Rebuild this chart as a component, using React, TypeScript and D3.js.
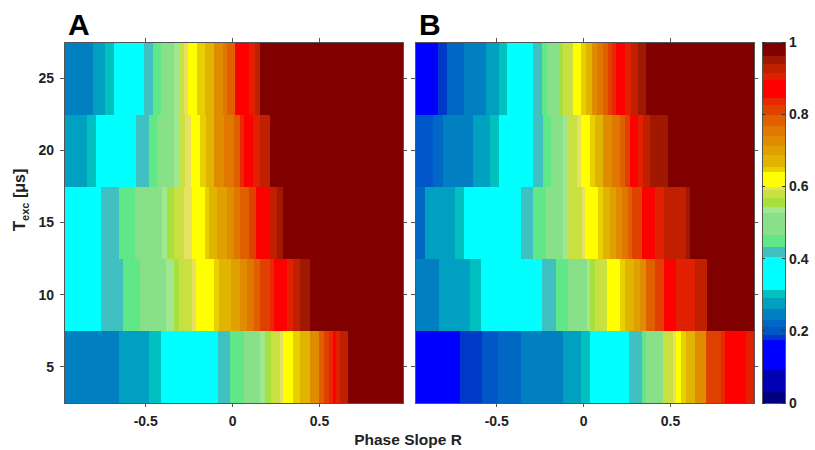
import * as d3 from "d3";

// axes
const X_DOMAIN: [number, number] = [-0.97, 0.98];
const Y_DOMAIN: [number, number] = [2.5, 27.5];
const ROWS = [5, 10, 15, 20, 25];
const X_TICKS = [-0.5, 0, 0.5];
const Y_TICKS = [5, 10, 15, 20, 25];
const CBAR_TICKS = [0, 0.2, 0.4, 0.6, 0.8, 1];

// discrete colour levels of the colour bar (bottom -> top)
const LEVEL_BREAKS = [
  0.031, 0.092, 0.175, 0.189, 0.212, 0.231, 0.263, 0.291, 0.314, 0.406,
  0.434, 0.467, 0.528, 0.545, 0.569, 0.592, 0.601, 0.642, 0.656, 0.689,
  0.712, 0.74, 0.768, 0.8, 0.828, 0.846, 0.897, 0.916, 0.941, 0.962,
];
const LEVEL_COLORS = [
  "#000080", "#0000b4", "#0000ff", "#0038c8", "#0058c8", "#0068c4", "#0080c0",
  "#00a0c0", "#00c0c0", "#00ffff", "#40c0c0", "#60e888", "#88e088", "#a0e890",
  "#a8e040", "#c8e040", "#e8e060", "#ffff00", "#e8d000", "#e0b400", "#e0a000",
  "#e08c00", "#e07800", "#e06000", "#e04000", "#e82800", "#ff0000", "#e02000",
  "#c02000", "#a01800", "#800000",
];

// panel A: segment boundaries along R and the value of each segment, one list per row (5..25)
const A_EDGES = [
  [-0.655, -0.483, -0.41, -0.084, -0.013, 0.063, 0.159, 0.188, 0.221, 0.275, 0.29, 0.345, 0.385, 0.443, 0.494, 0.523, 0.552, 0.577, 0.596, 0.615, 0.661],
  [-0.755, -0.632, -0.53, -0.381, -0.339, -0.31, -0.234, -0.209, -0.109, -0.08, -0.009, 0.04, 0.08, 0.121, 0.159, 0.213, 0.24, 0.313, 0.347, 0.389, 0.443],
  [-0.755, -0.655, -0.559, -0.406, -0.377, -0.339, -0.282, -0.234, -0.157, -0.138, -0.09, -0.032, 0.006, 0.044, 0.092, 0.136, 0.213, 0.255, 0.29],
  [-0.837, -0.785, -0.553, -0.483, -0.435, -0.339, -0.31, -0.272, -0.237, -0.186, -0.153, -0.109, -0.052, 0.006, 0.044, 0.063, 0.117, 0.159, 0.213],
  [-0.805, -0.732, -0.684, -0.507, -0.457, -0.41, -0.339, -0.305, -0.278, -0.259, -0.205, -0.157, -0.105, -0.057, -0.032, 0.016, 0.092, 0.126, 0.159],
];
const A_VALUES = [
  [0.25, 0.28, 0.3, 0.36, 0.42, 0.45, 0.5, 0.535, 0.555, 0.58, 0.596, 0.62, 0.65, 0.67, 0.725, 0.785, 0.815, 0.835, 0.87, 0.905, 0.93, 0.98],
  [0.36, 0.42, 0.45, 0.5, 0.535, 0.555, 0.58, 0.596, 0.62, 0.65, 0.67, 0.7, 0.725, 0.755, 0.785, 0.815, 0.835, 0.87, 0.905, 0.93, 0.95, 0.98],
  [0.36, 0.42, 0.45, 0.5, 0.535, 0.555, 0.58, 0.596, 0.62, 0.65, 0.67, 0.7, 0.725, 0.755, 0.785, 0.815, 0.87, 0.93, 0.95, 0.98],
  [0.28, 0.3, 0.36, 0.42, 0.45, 0.5, 0.535, 0.58, 0.596, 0.62, 0.65, 0.67, 0.725, 0.755, 0.785, 0.835, 0.87, 0.905, 0.93, 0.98],
  [0.25, 0.28, 0.3, 0.36, 0.42, 0.45, 0.5, 0.535, 0.58, 0.596, 0.62, 0.65, 0.67, 0.725, 0.755, 0.785, 0.87, 0.905, 0.93, 0.98],
];

// panel B
const B_EDGES = [
  [-0.71, -0.585, -0.49, -0.362, -0.117, -0.015, 0.036, 0.26, 0.336, 0.361, 0.457, 0.514, 0.534, 0.562, 0.587, 0.639, 0.706, 0.792, 0.811, 0.935],
  [-0.834, -0.656, -0.589, -0.237, -0.161, -0.088, 0.017, 0.036, 0.065, 0.132, 0.208, 0.237, 0.289, 0.323, 0.361, 0.409, 0.461, 0.534, 0.639, 0.709],
  [-0.911, -0.738, -0.687, -0.362, -0.289, -0.216, -0.117, -0.088, -0.011, 0.007, 0.084, 0.112, 0.15, 0.185, 0.22, 0.256, 0.281, 0.338, 0.409, 0.461, 0.591, 0.61],
  [-0.867, -0.809, -0.637, -0.538, -0.484, -0.289, -0.235, -0.189, -0.117, -0.088, -0.04, -0.017, 0.036, 0.065, 0.112, 0.161, 0.212, 0.237, 0.266, 0.313, 0.342, 0.38, 0.485],
  [-0.84, -0.786, -0.687, -0.561, -0.484, -0.438, -0.289, -0.241, -0.212, -0.14, -0.117, -0.063, -0.017, 0.013, 0.046, 0.075, 0.112, 0.141, 0.161, 0.185, 0.237, 0.27, 0.313, 0.361],
];
const B_VALUES = [
  [0.13, 0.18, 0.2, 0.22, 0.25, 0.28, 0.3, 0.36, 0.42, 0.45, 0.5, 0.58, 0.596, 0.62, 0.65, 0.67, 0.725, 0.815, 0.835, 0.87, 0.905],
  [0.25, 0.28, 0.3, 0.36, 0.42, 0.45, 0.5, 0.535, 0.555, 0.58, 0.62, 0.65, 0.67, 0.7, 0.725, 0.785, 0.815, 0.87, 0.905, 0.93, 0.98],
  [0.22, 0.28, 0.3, 0.36, 0.42, 0.45, 0.5, 0.535, 0.58, 0.596, 0.62, 0.65, 0.67, 0.7, 0.725, 0.755, 0.785, 0.815, 0.87, 0.905, 0.93, 0.95, 0.98],
  [0.2, 0.22, 0.25, 0.28, 0.3, 0.36, 0.42, 0.45, 0.5, 0.535, 0.58, 0.596, 0.62, 0.65, 0.67, 0.725, 0.755, 0.785, 0.815, 0.87, 0.905, 0.93, 0.95, 0.98],
  [0.13, 0.18, 0.22, 0.25, 0.28, 0.3, 0.36, 0.42, 0.45, 0.5, 0.555, 0.58, 0.62, 0.65, 0.67, 0.725, 0.755, 0.785, 0.815, 0.835, 0.87, 0.905, 0.93, 0.95, 0.98],
];

const WIDTH = 815;
const HEIGHT = 450;
const TOP = 42;
const BOTTOM = 403;
const CBAR = { left: 762, right: 785 };
const FONT = "'Liberation Sans', Arial, Helvetica, sans-serif";
const AXIS_COLOR = "#555";
const TICK = 4;

const color = d3
  .scaleThreshold<number, string>()
  .domain(LEVEL_BREAKS)
  .range(LEVEL_COLORS);
const yScale = d3.scaleLinear().domain(Y_DOMAIN).range([BOTTOM, TOP]);

function Panel({ label, left, right, edges, values, showY }) {
  const xScale = d3.scaleLinear().domain(X_DOMAIN).range([left, right]);

  const cells = ROWS.flatMap((row, r) => {
    const bounds = [X_DOMAIN[0], ...edges[r], X_DOMAIN[1]];
    const y0 = yScale(row + 2.5);
    const y1 = yScale(row - 2.5);
    return values[r].map((v, i) => (
      <rect
        key={`${r}-${i}`}
        x={xScale(bounds[i])}
        y={y0}
        width={xScale(bounds[i + 1]) - xScale(bounds[i]) + 0.5}
        height={y1 - y0 + 0.5}
        fill={color(v)}
      />
    ));
  });

  return (
    <g>
      {cells}
      <rect
        x={left}
        y={TOP}
        width={right - left}
        height={BOTTOM - TOP}
        fill="none"
        stroke={AXIS_COLOR}
        strokeWidth={1}
      />
      {X_TICKS.map((t) => (
        <g key={t}>
          <line x1={xScale(t)} x2={xScale(t)} y1={BOTTOM} y2={BOTTOM + TICK} stroke={AXIS_COLOR} />
          <line x1={xScale(t)} x2={xScale(t)} y1={TOP} y2={TOP - TICK} stroke={AXIS_COLOR} />
          <text
            x={xScale(t)}
            y={426}
            textAnchor="middle"
            fontSize={14}
            fontWeight="bold"
            fill="#222"
          >
            {t}
          </text>
        </g>
      ))}
      {Y_TICKS.map((t) => (
        <g key={t}>
          <line x1={left} x2={left - TICK} y1={yScale(t)} y2={yScale(t)} stroke={AXIS_COLOR} />
          <line x1={right} x2={right + TICK} y1={yScale(t)} y2={yScale(t)} stroke={AXIS_COLOR} />
          {showY && (
            <text
              x={left - 10}
              y={yScale(t)}
              dy="0.35em"
              textAnchor="end"
              fontSize={14}
              fontWeight="bold"
              fill="#222"
            >
              {t}
            </text>
          )}
        </g>
      ))}
      <text x={left + 4} y={35} fontSize={30} fontWeight="bold" fill="#000">
        {label}
      </text>
    </g>
  );
}

function ColorBar() {
  const cScale = d3.scaleLinear().domain([0, 1]).range([BOTTOM, TOP]);
  const bounds = [0, ...LEVEL_BREAKS, 1];
  return (
    <g>
      {LEVEL_COLORS.map((c, i) => (
        <rect
          key={i}
          x={CBAR.left}
          y={cScale(bounds[i + 1])}
          width={CBAR.right - CBAR.left}
          height={cScale(bounds[i]) - cScale(bounds[i + 1]) + 0.5}
          fill={c}
        />
      ))}
      <rect
        x={CBAR.left}
        y={TOP}
        width={CBAR.right - CBAR.left}
        height={BOTTOM - TOP}
        fill="none"
        stroke={AXIS_COLOR}
      />
      {CBAR_TICKS.map((t) => (
        <g key={t}>
          <line x1={CBAR.left} x2={CBAR.left + 3} y1={cScale(t)} y2={cScale(t)} stroke="#333" />
          <line x1={CBAR.right} x2={CBAR.right - 3} y1={cScale(t)} y2={cScale(t)} stroke="#333" />
          <text
            x={CBAR.right + 4}
            y={cScale(t)}
            dy="0.35em"
            fontSize={14}
            fontWeight="bold"
            fill="#222"
          >
            {t}
          </text>
        </g>
      ))}
    </g>
  );
}

export default function App() {
  return (
    <svg
      width={WIDTH}
      height={HEIGHT}
      style={{ position: "absolute", left: 0, top: 0, background: "#fff" }}
      fontFamily={FONT}
      shapeRendering="crispEdges"
    >
      <Panel label="A" left={64} right={403} edges={A_EDGES} values={A_VALUES} showY={true} />
      <Panel label="B" left={415} right={754} edges={B_EDGES} values={B_VALUES} showY={false} />
      <ColorBar />
      <text
        x={408}
        y={445}
        textAnchor="middle"
        fontSize={15.5}
        fontWeight="bold"
        fill="#222"
        shapeRendering="auto"
      >
        Phase Slope R
      </text>
      <text
        transform="translate(25,200) rotate(-90)"
        textAnchor="middle"
        fontWeight="bold"
        fill="#222"
      >
        <tspan fontSize={17}>T</tspan>
        <tspan fontSize={11} dy={4}>exc</tspan>
        <tspan fontSize={16} dy={-4}> [μs]</tspan>
      </text>
    </svg>
  );
}
